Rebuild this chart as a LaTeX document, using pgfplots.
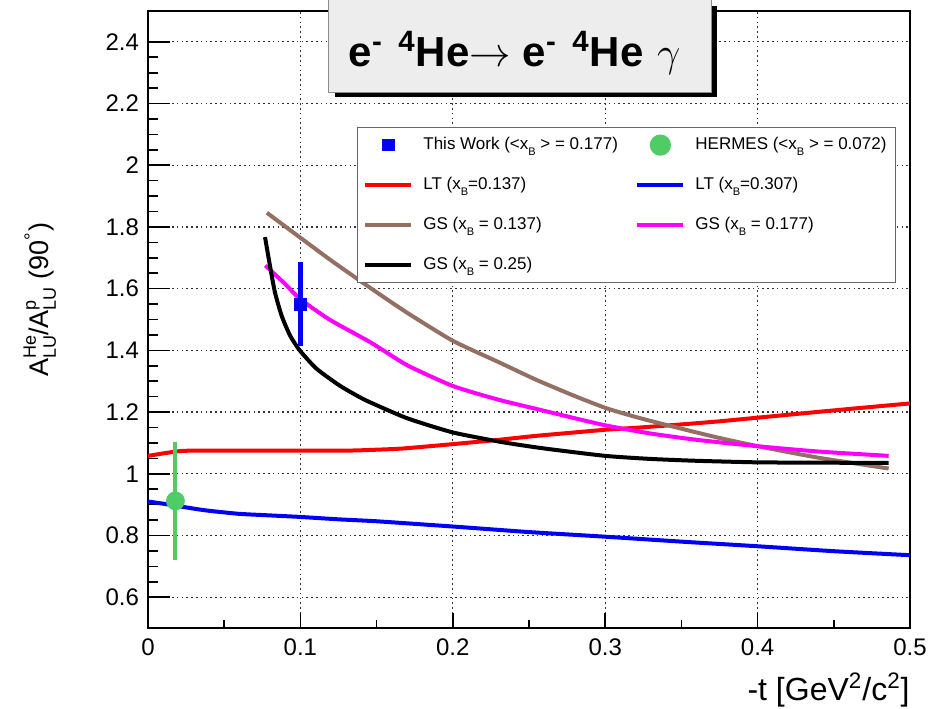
\documentclass[border=0pt]{standalone}
\usepackage{pgfplots}
\pgfplotsset{compat=1.18}
\usepackage{fontspec}
\setmainfont{Liberation Sans}

\definecolor{gsbrown}{RGB}{148,112,98}
\definecolor{gsmagenta}{RGB}{255,0,255}
\definecolor{hermesgreen}{RGB}{80,204,102}
\definecolor{ltblue}{RGB}{0,0,245}

% tiny lowered B used for x_B
\newcommand\sB{\raisebox{-0.7ex}{\fontsize{5.5}{6}\selectfont B}}
% stacked super/subscript
\newcommand\supsub[2]{\rlap{\raisebox{0.85ex}{\fontsize{9}{10}\selectfont #1}}\raisebox{-0.55ex}{\fontsize{9}{10}\selectfont #2}}

% legend images: a line segment, or a single centred marker
\pgfplotsset{
  legline/.style={legend image code/.code={\draw[##1] (0pt,0pt) -- (23pt,0pt);}},
  legmark/.style={legend image code/.code={\draw[mark repeat=2,mark phase=2,##1] plot coordinates {(0pt,0pt) (11.5pt,0pt) (23pt,0pt)};}},
  curve/.style={line width=2pt, smooth, tension=0.35, forget plot},
}

\begin{document}
\begin{tikzpicture}
\useasboundingbox (-74pt,-40pt) rectangle (398.5pt,314pt);
\begin{axis}[
  name=ax,
  at={(0pt,0pt)}, anchor=south west,
  scale only axis,
  width=381pt, height=308.5pt,
  xmin=0, xmax=0.5, ymin=0.5, ymax=2.5,
  xtick={0,0.1,...,0.5},
  ytick={0.6,0.8,...,2.41},
  minor x tick num=1,
  minor y tick num=3,
  tick pos=left,
  tick align=inside,
  xtick style={/pgfplots/major tick length=7.5pt,/pgfplots/minor tick length=4pt,line width=0.8pt,black},
  ytick style={/pgfplots/major tick length=11pt,/pgfplots/minor tick length=5pt,line width=0.8pt,black},
  axis line style={line width=1pt,black},
  grid=major,
  major grid style={black!80,line width=0.6pt,dash pattern=on 0.8pt off 1.6pt},
  /pgf/number format/assume math mode=true,
  ticklabel style={font=\fontsize{12}{14}\selectfont},
  xticklabel style={yshift=-2pt},
  yticklabel style={xshift=-1pt},
  xlabel={-t [GeV\textsuperscript{2}/c\textsuperscript{2}]},
  xlabel style={at={(axis description cs:1,0)},anchor=north east,inner sep=0pt,yshift=-22pt,font=\fontsize{16}{18}\selectfont},
  ylabel={A\supsub{He}{LU}/A\supsub{p}{LU} (90\textsuperscript{°})},
  ylabel style={at={(axis description cs:-0.142,0.532)},anchor=center,font=\fontsize{13.5}{15}\selectfont},
  legend columns=2,
  legend cell align=left,
  legend style={
    at={(axis description cs:0.274,0.812)}, anchor=north west,
    draw=black!60, line width=0.6pt, fill=white,
    font=\fontsize{8.5}{10}\selectfont,
    inner xsep=3pt, inner ysep=2pt,
    row sep=6.5pt,
    nodes={text height=7pt,text depth=2.5pt},
    /tikz/every odd column/.append style={column sep=3pt},
    /tikz/every even column/.append style={column sep=4pt},
  },
]

% legend entries
\addlegendimage{only marks, mark=square*, mark size=2.8pt, color=ltblue, legmark}
\addlegendentry{\makebox[100pt][l]{This Work (<x\sB{} > = 0.177)}}
\addlegendimage{only marks, mark=*, mark size=5pt, color=hermesgreen, legmark}
\addlegendentry{\makebox[95pt][l]{HERMES (<x\sB{} > = 0.072)}}
\addlegendimage{red, line width=2pt, legline}
\addlegendentry{\makebox[100pt][l]{LT (x\sB{}=0.137)}}
\addlegendimage{ltblue, line width=2pt, legline}
\addlegendentry{\makebox[95pt][l]{LT (x\sB{}=0.307)}}
\addlegendimage{gsbrown, line width=2pt, legline}
\addlegendentry{\makebox[100pt][l]{GS (x\sB{} = 0.137)}}
\addlegendimage{gsmagenta, line width=2pt, legline}
\addlegendentry{\makebox[95pt][l]{GS (x\sB{} = 0.177)}}
\addlegendimage{black, line width=2pt, legline}
\addlegendentry{\makebox[100pt][l]{GS (x\sB{} = 0.25)}}

% LT, x_B = 0.137
\addplot[red, curve] coordinates {
 (0,1.058) (0.01,1.066) (0.02,1.073) (0.03,1.075) (0.08,1.075) (0.13,1.075)
 (0.15,1.078) (0.1675,1.082) (0.2,1.096) (0.23,1.110) (0.255,1.123)
 (0.28,1.134) (0.301,1.143) (0.323,1.150) (0.35,1.160) (0.375,1.170)
 (0.4005,1.182) (0.43,1.196) (0.46,1.210) (0.5,1.228)};

% LT, x_B = 0.307
\addplot[ltblue, curve] coordinates {
 (0,0.910) (0.01,0.903) (0.02,0.895) (0.03,0.887) (0.04,0.880) (0.06,0.870)
 (0.08,0.865) (0.1,0.860) (0.126,0.852) (0.15,0.846) (0.2,0.829) (0.25,0.811)
 (0.3,0.796) (0.35,0.780) (0.4,0.765) (0.45,0.749) (0.5,0.736)};

% GS, x_B = 0.137
\addplot[gsbrown, curve] coordinates {
 (0.078,1.846) (0.1,1.765) (0.12,1.692) (0.146,1.602) (0.17,1.522)
 (0.2,1.431) (0.23,1.362) (0.255,1.304) (0.28,1.252) (0.301,1.212)
 (0.323,1.180) (0.35,1.146) (0.375,1.116) (0.4005,1.089) (0.44,1.052) (0.486,1.017)};

% GS, x_B = 0.177
\addplot[gsmagenta, curve] coordinates {
 (0.077,1.675) (0.09,1.615) (0.0997,1.567) (0.119,1.500) (0.146,1.426)
 (0.17,1.352) (0.2003,1.284) (0.23,1.240) (0.255,1.210) (0.28,1.180)
 (0.301,1.156) (0.329,1.131) (0.36,1.110) (0.4005,1.089) (0.44,1.072) (0.486,1.058)};

% GS, x_B = 0.25
\addplot[black, curve] coordinates {
 (0.0768,1.767) (0.080,1.675) (0.0833,1.588) (0.0877,1.512) (0.0932,1.448)
 (0.0997,1.399) (0.1107,1.340) (0.126,1.285) (0.139,1.248) (0.146,1.231)
 (0.17,1.180) (0.2,1.134) (0.233,1.102) (0.26,1.082) (0.3,1.058)
 (0.33,1.048) (0.36,1.042) (0.4,1.037) (0.44,1.036) (0.486,1.035)};

% HERMES
\addplot[hermesgreen, only marks, mark=*, mark size=4.5pt, forget plot,
  error bars/.cd, y dir=both, y explicit, error mark=none,
  error bar style={line width=2pt,hermesgreen}]
  coordinates {(0.018,0.912) +- (0,0.19)};

% This work
\addplot[ltblue, only marks, mark=square*, mark size=3.2pt, forget plot,
  error bars/.cd, y dir=both, y explicit, error mark=none,
  error bar style={line width=2.2pt,ltblue}]
  coordinates {(0.1,1.549) +- (0,0.136)};
\end{axis}

% title box with drop shadow
\fill[black] (93.5pt,265.5pt) rectangle (284.5pt,311pt);
\draw[fill=black!7, draw=black!45, line width=0.5pt] (90pt,268pt) rectangle (281.5pt,315pt);
\node[anchor=base, inner sep=0pt, font=\fontsize{21}{24}\selectfont\bfseries]
  at (183.3pt,280.6pt) {e\textsuperscript{-}\hspace{2pt} \textsuperscript{4}He$\rightarrow$ e\textsuperscript{-}\hspace{2pt} \textsuperscript{4}He\hspace{1pt} $\gamma$};
\end{tikzpicture}
\end{document}
